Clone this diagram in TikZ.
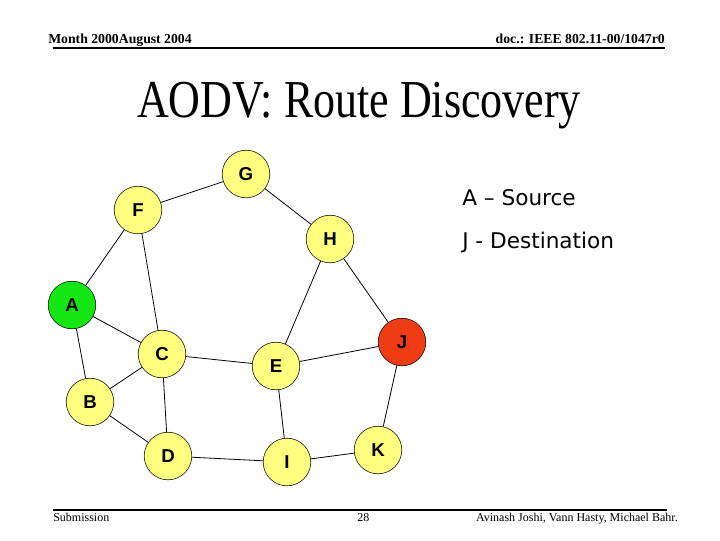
\documentclass[tikz,border=0pt]{standalone}
\usepackage{fontspec}
\setmainfont{Liberation Serif}
\setsansfont{Liberation Sans}
\newfontfamily\legendfont{DejaVu Sans}
\definecolor{nodeyellow}{RGB}{255,255,128}
\definecolor{srcgreen}{RGB}{20,230,20}
\definecolor{dstred}{RGB}{240,60,20}
\tikzset{
router/.style={circle, draw, fill=nodeyellow, minimum size=35.7pt, inner sep=0pt,
  font=\sffamily\bfseries\fontsize{14}{14}\selectfont},
source/.style={router, fill=srcgreen},
target/.style={router, fill=dstred},
link/.style={line width=0.6pt}
}

\begin{document}
\begin{tikzpicture}[x=0.75pt,y=-0.75pt]
\useasboundingbox (0,0) rectangle (720,540);
% header and footer
\node[anchor=base west, inner sep=0pt, font=\bfseries\fontsize{10.3}{10.3}\selectfont] (month) at (48,43) {Month 2000August 2004};
\node[anchor=base east, inner sep=0pt, font=\bfseries\fontsize{10.3}{10.3}\selectfont] (doc) at (665,43) {doc.: IEEE 802.11-00/1047r0};
\draw[line width=1.5pt] (53,47.7) -- (665,47.7);
\draw[line width=1.5pt] (53,509.7) -- (667,509.7);
\node[anchor=base west, inner sep=0pt, font=\fontsize{9}{9}\selectfont] (sub) at (53,521) {Submission};
\node[anchor=base west, inner sep=0pt, font=\fontsize{9}{9}\selectfont] (page) at (357,521) {28};
\node[anchor=base east, inner sep=0pt, font=\fontsize{9}{9}\selectfont] (auth) at (678,521) {Avinash Joshi, Vann Hasty, Michael Bahr.};
% title
\node[anchor=base, inner sep=0pt, font=\fontsize{40}{40}\selectfont] (title) at (359,117) {\scalebox{0.825}[1]{AODV: Route Discovery}};
% legend
\node[anchor=west, inner sep=0pt, font=\legendfont\fontsize{16.2}{16.2}\selectfont] (srclab) at (462,198) {A – Source};
\node[anchor=west, inner sep=0pt, font=\legendfont\fontsize{16.2}{16.2}\selectfont] (dstlab) at (462,242) {J - Destination};
% nodes
\node[router] (G) at (246,174) {G};
\node[router] (F) at (138,210) {F};
\node[router] (H) at (330,239) {H};
\node[source] (A) at (72,305) {A};
\node[router] (C) at (162,354) {C};
\node[router] (E) at (276,366) {E};
\node[target] (J) at (402,342) {J};
\node[router] (B) at (90,402) {B};
\node[router] (D) at (168,456) {D};
\node[router] (I) at (287,462) {I};
\node[router] (K) at (378,450) {K};
% links
\draw[link] (G) -- (F);
\draw[link] (G) -- (H);
\draw[link] (F) -- (A);
\draw[link] (F) -- (C);
\draw[link] (H) -- (E);
\draw[link] (H) -- (J);
\draw[link] (A) -- (C);
\draw[link] (A) -- (B);
\draw[link] (B) -- (C);
\draw[link] (B) -- (D);
\draw[link] (C) -- (D);
\draw[link] (C) -- (E);
\draw[link] (E) -- (J);
\draw[link] (E) -- (I);
\draw[link] (D) -- (I);
\draw[link] (I) -- (K);
\draw[link] (J) -- (K);
\end{tikzpicture}
\end{document}
